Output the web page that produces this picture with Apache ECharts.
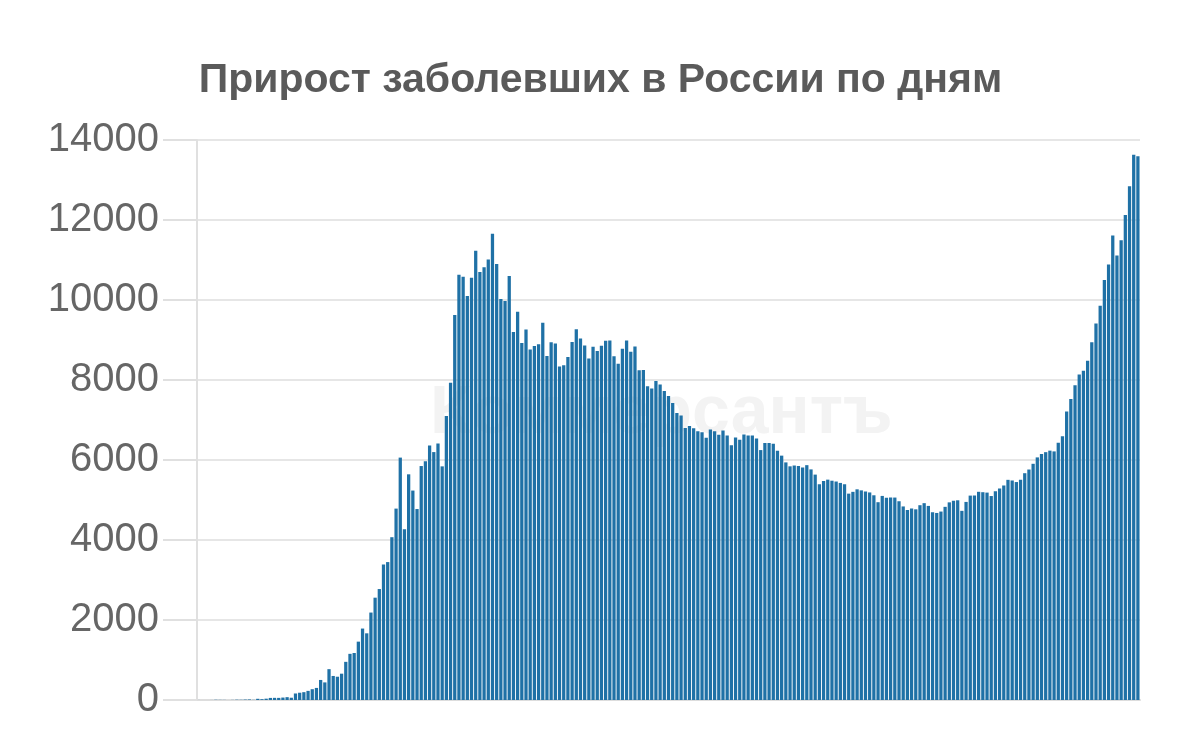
<!DOCTYPE html>
<html><head><meta charset="utf-8">
<script src="https://cdn.jsdelivr.net/npm/echarts@6/dist/echarts.min.js"></script>
<style>html,body{margin:0;padding:0;background:#fff}#c{width:1201px;height:730px}</style>
</head><body><div id="c"></div>
<script>
const titleText = 'Прирост заболевших в России по дням';
const watermarkText = 'Коммерсантъ';
const yTicks = [0, 2000, 4000, 6000, 8000, 10000, 12000, 14000];
const mar = [1,0,0,1,6,4,3,0,3,8,6,11,14,4,30,21,33,52,54,53,61,71,57,163,182,196,228,270,302,501];
const apr = [440,771,601,582,658,954,1154,1175,1459,1786,1667,2186,2558,2774,3388,3448,4070,4785,6060,4268,5642,5236,4774,5849,5966,6361,6198,6411,5841,7099];
const may = [7933,9623,10633,10581,10102,10559,11231,10699,10817,11012,11656,10899,10028,9974,10598,9200,9709,8926,9263,8764,8849,8894,9434,8599,8946,8915,8338,8371,8572,8952,9268];
const jun = [9035,8863,8536,8831,8726,8855,8984,8985,8595,8404,8779,8987,8706,8835,8246,8248,7843,7790,7972,7889,7728,7600,7425,7176,7113,6800,6852,6791,6719,6693];
const jul = [6556,6760,6718,6632,6736,6611,6368,6562,6509,6635,6611,6615,6537,6248,6422,6428,6406,6234,6109,5940,5842,5862,5848,5811,5871,5765,5635,5395,5475,5509,5482];
const aug = [5462,5427,5394,5159,5204,5267,5241,5212,5189,5118,4945,5102,5057,5065,5061,4969,4839,4748,4790,4767,4870,4921,4852,4696,4676,4711,4829,4941,4980,4993,4729];
const sep = [4952,5110,5110,5205,5195,5185,5099,5218,5290,5363,5504,5488,5449,5509,5670,5762,5905,6065,6148,6196,6234,6215,6431,6595,7212,7523,7867,8135,8232,8481];
const oct = [8945,9412,9859,10499,10888,11615,11115,11493,12126,12846,13634,13592];

const values = [].concat(mar, apr, may, jun, jul, aug, sep, oct);
const categories = values.map((v, i) => 'd' + (i + 1));

const chart = echarts.init(document.getElementById('c'), null, {renderer: 'canvas'});
chart.setOption({
  animation: false,
  backgroundColor: '#ffffff',
  title: {
    text: titleText, left: 'center', top: 55,
    textStyle: {fontFamily: 'Liberation Sans, Arial, sans-serif', fontWeight: 'bold', fontSize: 41, color: '#5a5a5a'}
  },
  graphic: [{
    type: 'text', left: 430, top: 380, z: 0,
    style: {text: watermarkText, font: 'bold 68px "Liberation Sans", Arial, sans-serif', fill: '#f3f3f3'}
  }],
  grid: {left: 197, right: 61, top: 140, bottom: 30, containLabel: false},
  xAxis: {
    type: 'category', data: categories,
    axisLine: {show: true, lineStyle: {color: '#dddddd', width: 2}},
    axisTick: {show: false}, axisLabel: {show: false}
  },
  yAxis: {
    type: 'value', min: yTicks[0], max: yTicks[yTicks.length - 1], interval: yTicks[1] - yTicks[0],
    axisLine: {show: true, lineStyle: {color: '#e0e0e0', width: 2}},
    axisTick: {show: true, length: 34, lineStyle: {color: '#e0e0e0', width: 2}},
    axisLabel: {margin: 38, fontFamily: 'Liberation Sans, Arial, sans-serif', fontSize: 40, color: '#666666',
      formatter: v => String(v)},
    splitLine: {show: true, lineStyle: {color: '#e6e6e6', width: 2}}
  },
  series: [{
    type: 'bar', data: values, z: 2,
    barCategoryGap: '22%',
    itemStyle: {color: '#1f71a6'}
  }]
});
</script></body></html>
